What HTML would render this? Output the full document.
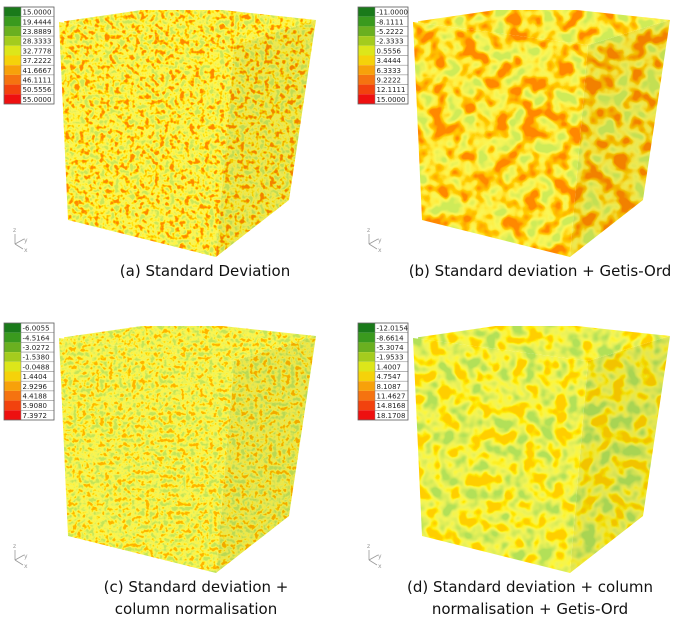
<!DOCTYPE html>
<html><head><meta charset="utf-8">
<style>
body{margin:0;background:#fff;width:685px;height:621px;overflow:hidden}
svg{display:block}
text{font-family:"DejaVu Sans","Liberation Sans",sans-serif}
</style></head>
<body>
<svg id="fig" width="685" height="621" viewBox="0 0 685 621" xmlns="http://www.w3.org/2000/svg">
<defs>
<filter id="nA" x="0" y="0" width="1" height="1"><feTurbulence type="fractalNoise" baseFrequency="0.2" numOctaves="2" seed="3"/><feColorMatrix type="matrix" values="2.6 0 0 0 -0.8  2.6 0 0 0 -0.8  2.6 0 0 0 -0.8  0 0 0 0 1"/><feComponentTransfer><feFuncR type="table" tableValues="0.6 0.78 0.9 0.97 1 1 1 1"/><feFuncG type="table" tableValues="0.8 0.86 0.9 0.92 0.9 0.75 0.5 0.25"/><feFuncB type="table" tableValues="0.1 0.1 0.1 0.1 0.05 0 0 0"/></feComponentTransfer></filter>
<filter id="nB" x="0" y="0" width="1" height="1"><feTurbulence type="fractalNoise" baseFrequency="0.065" numOctaves="2" seed="7"/><feColorMatrix type="matrix" values="2.8 0 0 0 -0.85  2.8 0 0 0 -0.85  2.8 0 0 0 -0.85  0 0 0 0 1"/><feComponentTransfer><feFuncR type="table" tableValues="0.62 0.82 0.95 1 1 1 1"/><feFuncG type="table" tableValues="0.83 0.88 0.92 0.85 0.62 0.45 0.25"/><feFuncB type="table" tableValues="0.1 0.1 0.1 0.05 0 0 0"/></feComponentTransfer></filter>
<filter id="nC" x="0" y="0" width="1" height="1"><feTurbulence type="fractalNoise" baseFrequency="0.22" numOctaves="2" seed="11"/><feColorMatrix type="matrix" values="2.6 0 0 0 -0.8  2.6 0 0 0 -0.8  2.6 0 0 0 -0.8  0 0 0 0 1"/><feComponentTransfer><feFuncR type="table" tableValues="0.55 0.68 0.8 0.9 0.96 1 1 1"/><feFuncG type="table" tableValues="0.78 0.84 0.88 0.9 0.92 0.88 0.7 0.45"/><feFuncB type="table" tableValues="0.1 0.1 0.1 0.1 0.08 0.05 0 0"/></feComponentTransfer></filter>
<filter id="nD" x="0" y="0" width="1" height="1"><feTurbulence type="fractalNoise" baseFrequency="0.07" numOctaves="2" seed="5"/><feColorMatrix type="matrix" values="2.8 0 0 0 -0.85  2.8 0 0 0 -0.85  2.8 0 0 0 -0.85  0 0 0 0 1"/><feComponentTransfer><feFuncR type="table" tableValues="0.45 0.6 0.75 0.88 0.97 1 1"/><feFuncG type="table" tableValues="0.75 0.8 0.86 0.9 0.92 0.82 0.62"/><feFuncB type="table" tableValues="0.1 0.1 0.1 0.1 0.05 0 0"/></feComponentTransfer></filter>
</defs>
</svg>
<script>
const legendA=["15.0000","19.4444","23.8889","28.3333","32.7778","37.2222","41.6667","46.1111","50.5556","55.0000"];
const legendB=["-11.0000","-8.1111","-5.2222","-2.3333","0.5556","3.4444","6.3333","9.2222","12.1111","15.0000"];
const legendC=["-6.0055","-4.5164","-3.0272","-1.5380","-0.0488","1.4404","2.9296","4.4188","5.9080","7.3972"];
const legendD=["-12.0154","-8.6614","-5.3074","-1.9533","1.4007","4.7547","8.1087","11.4627","14.8168","18.1708"];
const swatches=["#1a7a1a","#3a9a1e","#6ab020","#a4cc1e","#dde61a","#f5d20a","#f7a10a","#f57310","#f2420e","#ee1010"];
const NS="http://www.w3.org/2000/svg";
const svg=document.getElementById('fig');
function mk(t,a,p){const e=document.createElementNS(NS,t);for(const k in a)e.setAttribute(k,a[k]);(p||svg).appendChild(e);return e;}
const panels=[
 {dx:0,dy:0,f:"nA",leg:legendA,cap:["(a) Standard Deviation"],cx:205,name:"panel-a"},
 {dx:354,dy:0,f:"nB",leg:legendB,cap:["(b) Standard deviation + Getis-Ord"],cx:186,name:"panel-b"},
 {dx:0,dy:316,f:"nC",leg:legendC,cap:["(c) Standard deviation +","column normalisation"],cx:196,name:"panel-c"},
 {dx:354,dy:316,f:"nD",leg:legendD,cap:["(d) Standard deviation + column","normalisation + Getis-Ord"],cx:176,name:"panel-d"}
];
panels.forEach((p,i)=>{
 const g=mk('g',{transform:`translate(${p.dx},${p.dy})`});
 
 
 const faces=[
  {pts:"59,22 234,45 216,257 68,220",sh:0,n:"front-face"},
  {pts:"234,45 316,20 289,200 216,257",sh:0.05,n:"side-face"},
  {pts:"59,22 176,5 316,20 234,45",sh:0,n:"top-face"}];
 faces.forEach((fc,j)=>{
  const cid=`c${i}_${j}`;
  const cp=mk('clipPath',{id:cid},g);mk('polygon',{points:fc.pts},cp);
  const fg=mk('g',{'clip-path':`url(#${cid})`},g);
  
  
  mk('rect',{x:50+j*7,y:0+j*5,width:280,height:265,filter:`url(#${p.f})`},fg);
  if(fc.sh)mk('polygon',{points:fc.pts,fill:'#000',opacity:fc.sh},fg);
 });
 const lg=mk('g',{},g);
 
 
 p.leg.forEach((v,k)=>{
  const y=7+k*9.7;
  mk('rect',{x:4,y:y,width:17,height:9.7,fill:swatches[k]},lg);
  mk('rect',{x:21,y:y,width:33,height:9.7,fill:'#fff',stroke:'#888','stroke-width':0.5},lg);
  const t=mk('text',{x:22.5,y:y+7.6,'font-size':7,fill:'#222'},lg);t.textContent=v;
 });
 mk('rect',{x:4,y:7,width:50,height:97,fill:'none',stroke:'#666','stroke-width':0.8},lg);
 const ax=mk('g',{stroke:'#999','stroke-width':0.8,fill:'none'},g);
 
 
 mk('path',{d:'M15 244 V234 M15 244 L24 239 M15 244 L23 249'},ax);
 const zt=mk('text',{x:13,y:232,'font-size':6,fill:'#999',stroke:'none'},ax);zt.textContent='z';
 const yt=mk('text',{x:24,y:242,'font-size':6,fill:'#999',stroke:'none'},ax);yt.textContent='y';
 const xt=mk('text',{x:24,y:252,'font-size':6,fill:'#999',stroke:'none'},ax);xt.textContent='x';
 p.cap.forEach((c,k)=>{
  const t=mk('text',{x:p.cx,y:276+k*22,'font-size':15,'text-anchor':'middle',fill:'#111'},g);
  
  
  t.textContent=c;
 });
});
</script>
</body></html>
